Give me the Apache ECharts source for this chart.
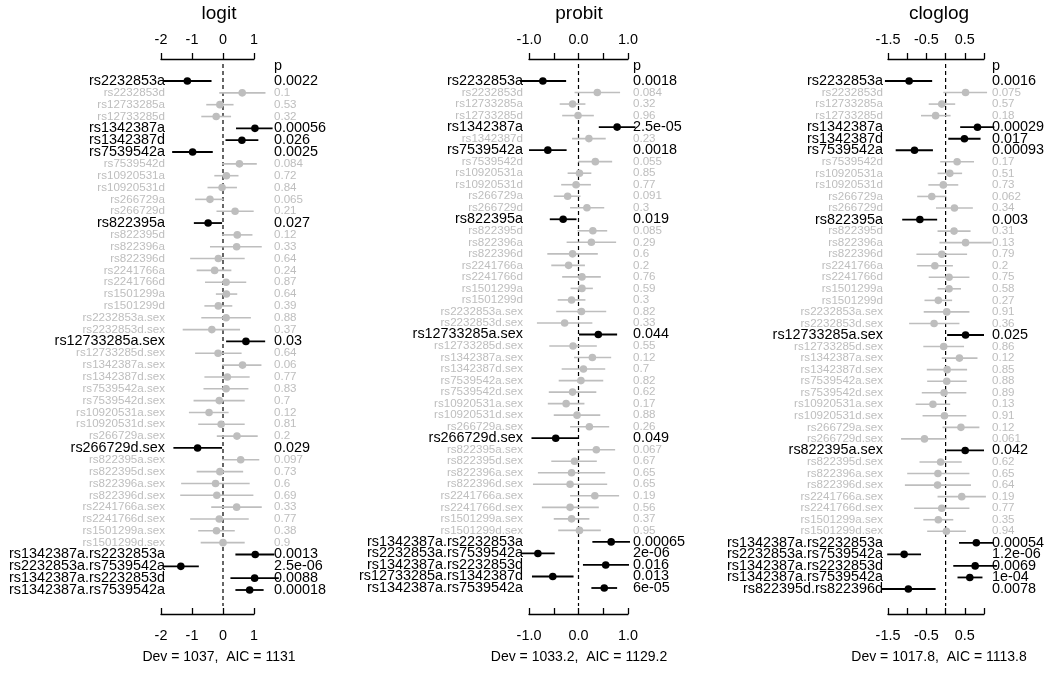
<!DOCTYPE html>
<html>
<head>
<meta charset="utf-8">
<script src="https://cdn.jsdelivr.net/npm/echarts@6/dist/echarts.min.js"></script>
<style>
  html, body { margin: 0; padding: 0; background: #fff; }
  #chart { width: 1050px; height: 678px; }
</style>
</head>
<body>
<div id="chart"></div>
<script>
// terms shared by all three models
const baseTerms = ['rs2232853a', 'rs2232853d', 'rs12733285a', 'rs12733285d', 'rs1342387a', 'rs1342387d',
  'rs7539542a', 'rs7539542d', 'rs10920531a', 'rs10920531d', 'rs266729a', 'rs266729d', 'rs822395a', 'rs822395d',
  'rs822396a', 'rs822396d', 'rs2241766a', 'rs2241766d', 'rs1501299a', 'rs1501299d',
  'rs2232853a.sex', 'rs2232853d.sex', 'rs12733285a.sex', 'rs12733285d.sex', 'rs1342387a.sex', 'rs1342387d.sex',
  'rs7539542a.sex', 'rs7539542d.sex', 'rs10920531a.sex', 'rs10920531d.sex', 'rs266729a.sex', 'rs266729d.sex',
  'rs822395a.sex', 'rs822395d.sex', 'rs822396a.sex', 'rs822396d.sex', 'rs2241766a.sex', 'rs2241766d.sex',
  'rs1501299a.sex', 'rs1501299d.sex']

const logitInter = ['rs1342387a.rs2232853a', 'rs2232853a.rs7539542a', 'rs1342387a.rs2232853d', 'rs1342387a.rs7539542a']
const probitInter = ['rs1342387a.rs2232853a', 'rs2232853a.rs7539542a', 'rs1342387a.rs2232853d', 'rs12733285a.rs1342387d', 'rs1342387a.rs7539542a']
const cloglogInter = ['rs1342387a.rs2232853a', 'rs2232853a.rs7539542a', 'rs1342387a.rs2232853d', 'rs1342387a.rs7539542a', 'rs822395d.rs822396d']

// logit
const logitEst = [-1.15, 0.62, -0.10, -0.22, 1.03, 0.61, -0.98, 0.53, 0.11, -0.03, -0.42, 0.39, -0.48, 0.46, 0.44, -0.15, -0.27, 0.10, 0.11, -0.15,
  0.10, -0.36, 0.74, -0.16, 0.63, 0.14, 0.10, -0.12, -0.45, -0.06, 0.45, -0.82, 0.57, -0.10, -0.24, -0.20, 0.44, -0.12, -0.21, 0.00,
  1.04, -1.36, 1.02, 0.86]
const logitLo = [-1.93, -0.12, -0.54, -0.70, 0.42, 0.08, -1.64, -0.03, -0.28, -0.50, -0.90, -0.21, -0.94, -0.03, -0.42, -1.06, -0.85, -0.58, -0.23, -0.60,
  -0.70, -1.30, 0.10, -0.90, -0.02, -0.60, -0.63, -0.95, -1.10, -0.80, -0.20, -1.60, -0.03, -0.85, -1.35, -1.38, -0.38, -1.06, -0.80, -0.72,
  0.40, -1.94, 0.24, 0.40]
const logitHi = [-0.37, 1.37, 0.34, 0.26, 1.60, 1.14, -0.33, 1.09, 0.50, 0.45, 0.02, 0.99, -0.03, 0.95, 1.25, 0.70, 0.27, 0.75, 0.46, 0.30,
  0.90, 0.55, 1.36, 0.60, 1.24, 0.86, 0.82, 0.70, 0.18, 0.70, 1.12, -0.03, 1.17, 0.65, 0.86, 0.98, 1.25, 0.83, 0.38, 0.70,
  1.66, -0.78, 1.80, 1.31]
const logitP = ['0.0022', '0.1', '0.53', '0.32', '0.00056', '0.026', '0.0025', '0.084', '0.72', '0.84', '0.065', '0.21', '0.027', '0.12',
  '0.33', '0.64', '0.24', '0.87', '0.64', '0.39', '0.88', '0.37', '0.03', '0.64', '0.06', '0.77', '0.83', '0.7', '0.12', '0.81', '0.2',
  '0.029', '0.097', '0.73', '0.6', '0.69', '0.33', '0.77', '0.38', '0.9', '0.0013', '2.5e-06', '0.0088', '0.00018']

// probit
const probitEst = [-0.72, 0.38, -0.12, -0.01, 0.78, 0.21, -0.62, 0.34, 0.02, -0.05, -0.22, 0.17, -0.31, 0.29, 0.26, -0.12, -0.20, 0.07, 0.07, -0.14,
  0.06, -0.28, 0.40, -0.11, 0.28, 0.10, 0.05, -0.12, -0.25, -0.03, 0.22, -0.46, 0.36, -0.08, -0.14, -0.17, 0.33, -0.17, -0.14, 0.02,
  0.66, -0.82, 0.55, -0.52, 0.52]
const probitLo = [-1.18, -0.08, -0.38, -0.33, 0.41, -0.13, -1.00, -0.01, -0.22, -0.35, -0.50, -0.17, -0.58, -0.02, -0.24, -0.63, -0.55, -0.33, -0.16, -0.42,
  -0.45, -0.84, 0.01, -0.59, -0.09, -0.34, -0.40, -0.60, -0.62, -0.50, -0.17, -0.95, -0.02, -0.55, -0.82, -0.92, -0.17, -0.74, -0.50, -0.41,
  0.28, -1.16, 0.09, -0.94, 0.26]
const probitHi = [-0.25, 0.84, 0.14, 0.31, 1.15, 0.55, -0.24, 0.68, 0.26, 0.25, 0.04, 0.52, -0.04, 0.58, 0.76, 0.39, 0.13, 0.45, 0.29, 0.14,
  0.56, 0.28, 0.78, 0.37, 0.66, 0.54, 0.50, 0.36, 0.12, 0.44, 0.62, -0.01, 0.74, 0.37, 0.54, 0.58, 0.82, 0.41, 0.22, 0.45,
  1.04, -0.48, 1.02, -0.10, 0.78]
const probitP = ['0.0018', '0.084', '0.32', '0.96', '2.5e-05', '0.23', '0.0018', '0.055', '0.85', '0.77', '0.091', '0.3', '0.019', '0.085',
  '0.29', '0.6', '0.2', '0.76', '0.59', '0.3', '0.82', '0.33', '0.044', '0.55', '0.12', '0.7', '0.82', '0.62', '0.17', '0.88', '0.26',
  '0.049', '0.067', '0.67', '0.65', '0.65', '0.19', '0.56', '0.37', '0.95', '0.00065', '2e-06', '0.016', '0.013', '6e-05']

// cloglog
const cloglogEst = [-0.95, 0.52, -0.10, -0.26, 0.83, 0.49, -0.81, 0.30, 0.11, -0.06, -0.36, 0.23, -0.67, 0.22, 0.52, -0.10, -0.28, 0.09, 0.09, -0.19,
  0.03, -0.30, 0.52, -0.05, 0.36, 0.04, 0.03, -0.04, -0.33, -0.03, 0.40, -0.55, 0.51, -0.13, -0.20, -0.21, 0.42, -0.10, -0.19, 0.02,
  0.80, -1.08, 0.77, 0.63, -0.97]
const cloglogLo = [-1.58, -0.06, -0.44, -0.64, 0.38, 0.07, -1.30, -0.14, -0.21, -0.45, -0.74, -0.25, -1.13, -0.21, -0.16, -0.76, -0.74, -0.44, -0.21, -0.55,
  -0.57, -0.95, 0.04, -0.58, -0.10, -0.49, -0.48, -0.62, -0.78, -0.60, -0.08, -1.16, 0.02, -0.68, -1.00, -1.06, -0.21, -0.82, -0.58, -0.48,
  0.35, -1.52, 0.20, 0.31, -1.68]
const cloglogHi = [-0.35, 1.08, 0.25, 0.13, 1.27, 0.91, -0.33, 0.74, 0.43, 0.33, 0.02, 0.71, -0.22, 0.65, 1.20, 0.56, 0.19, 0.62, 0.40, 0.17,
  0.62, 0.36, 1.00, 0.48, 0.83, 0.56, 0.55, 0.54, 0.12, 0.54, 0.88, 0.02, 1.00, 0.42, 0.62, 0.66, 1.05, 0.62, 0.20, 0.53,
  1.25, -0.64, 1.34, 0.96, -0.26]
const cloglogP = ['0.0016', '0.075', '0.57', '0.18', '0.00029', '0.017', '0.00093', '0.17', '0.51', '0.73', '0.062', '0.34', '0.003', '0.31',
  '0.13', '0.79', '0.2', '0.75', '0.58', '0.27', '0.91', '0.36', '0.025', '0.86', '0.12', '0.85', '0.88', '0.89', '0.13', '0.91', '0.12',
  '0.061', '0.042', '0.62', '0.65', '0.64', '0.19', '0.77', '0.35', '0.94', '0.00054', '1.2e-06', '0.0069', '1e-04', '0.0078']

// axis tick labels (one per tick, '' = tick without label)
const logitTicks = ['-2', '-1', '0', '1']
const probitTicks = ['-1.0', '', '0.0', '', '1.0']
const cloglogTicks = ['-1.5', '', '-0.5', '', '0.5', '']

const devTexts = ['Dev = 1037,  AIC = 1131', 'Dev = 1033.2,  AIC = 1129.2', 'Dev = 1017.8,  AIC = 1113.8']

const FONT = '"Liberation Sans", Arial, Helvetica, sans-serif'
const GRAY = '#bebebe'
const TOP = 59, BOTTOM = 614

const panels = [
  { title: 'logit', names: baseTerms.concat(logitInter), est: logitEst, lo: logitLo, hi: logitHi, p: logitP,
    ticks: logitTicks, min: -2, max: 1, interval: 1,
    left: 161, right: 254, labelRight: 165, pLeft: 274, center: 219, firstRow: 81, lastRow: 590 },
  { title: 'probit', names: baseTerms.concat(probitInter), est: probitEst, lo: probitLo, hi: probitHi, p: probitP,
    ticks: probitTicks, min: -1, max: 1, interval: 0.5,
    left: 529, right: 628, labelRight: 523, pLeft: 633, center: 579, firstRow: 81, lastRow: 588 },
  { title: 'cloglog', names: baseTerms.concat(cloglogInter), est: cloglogEst, lo: cloglogLo, hi: cloglogHi, p: cloglogP,
    ticks: cloglogTicks, min: -1.5, max: 1, interval: 0.5,
    left: 888, right: 984, labelRight: 883, pLeft: 992, center: 939, firstRow: 81, lastRow: 589 },
]

function xAxisFor(p, i, position) {
  const top = position === 'top'
  return {
    gridIndex: i,
    type: 'value',
    position,
    min: p.min,
    max: p.max,
    interval: p.interval,
    splitLine: { show: false },
    axisLine: { show: true, onZero: false, lineStyle: { color: '#000', width: 1.3 } },
    axisTick: { show: true, inside: !top, length: 6, lineStyle: { color: '#000', width: 1.3 } },
    axisLabel: {
      show: true,
      margin: top ? 12 : 15,
      showMinLabel: true,
      showMaxLabel: true,
      hideOverlap: false,
      color: '#000',
      fontSize: 14.4,
      fontFamily: FONT,
      formatter: v => p.ticks[Math.round((v - p.min) / p.interval)] || ''
    }
  }
}

const grid = [], xAxis = [], yAxis = [], series = [], title = []

panels.forEach((p, i) => {
  const n = p.names.length
  const step = (p.lastRow - p.firstRow) / (n - 1)
  grid.push({ left: p.left, width: p.right - p.left, top: TOP, height: BOTTOM - TOP })
  xAxis.push(xAxisFor(p, i, 'top'), xAxisFor(p, i, 'bottom'))
  yAxis.push({
    gridIndex: i, type: 'value', inverse: true, show: false,
    min: -(p.firstRow - TOP) / step,
    max: n - 1 + (BOTTOM - p.lastRow) / step
  })

  series.push({
    type: 'custom',
    xAxisIndex: 2 * i,
    yAxisIndex: i,
    clip: false,
    silent: true,
    data: p.est.map((e, k) => [e, p.lo[k], p.hi[k], k]),
    encode: { x: [0, 1, 2], y: 3 },
    renderItem: (params, api) => {
      const k = api.value(3)
      const sig = parseFloat(p.p[k]) < 0.05
      const col = sig ? '#000' : GRAY
      const fs = sig ? 14.4 : 11.6
      const c = api.coord([api.value(0), k])
      const a = api.coord([api.value(1), k])
      const b = api.coord([api.value(2), k])
      const children = []
      if (k === 0) {
        // dashed reference line at 0
        const z1 = api.coord([0, (64 - p.firstRow) / step])
        const z2 = api.coord([0, (606 - p.firstRow) / step])
        children.push({
          type: 'line', shape: { x1: z1[0], y1: z1[1], x2: z2[0], y2: z2[1] },
          style: { stroke: '#000', lineWidth: 1.2, lineDash: [4, 3] }
        })
        // p header
        const h = api.coord([0, -15 / step])
        children.push({
          type: 'text',
          style: { text: 'p', x: p.pLeft, y: h[1], align: 'left', verticalAlign: 'middle', fill: '#000', fontSize: 14.4, fontFamily: FONT }
        })
      }
      children.push({
        type: 'line', shape: { x1: a[0], y1: a[1], x2: b[0], y2: b[1] },
        style: { stroke: col, lineWidth: sig ? 1.8 : 1.6 }
      })
      children.push({
        type: 'circle', shape: { cx: c[0], cy: c[1], r: 3.8 },
        style: { fill: col }
      })
      children.push({
        type: 'text',
        style: { text: p.names[k], x: p.labelRight, y: c[1], align: 'right', verticalAlign: 'middle', fill: col, fontSize: fs, fontFamily: FONT }
      })
      children.push({
        type: 'text',
        style: { text: p.p[k], x: p.pLeft, y: c[1], align: 'left', verticalAlign: 'middle', fill: col, fontSize: fs, fontFamily: FONT }
      })
      return { type: 'group', children }
    }
  })

  title.push({
    text: p.title, left: p.center, top: 4, textAlign: 'center', padding: 0,
    textStyle: { fontSize: 19, fontWeight: 'normal', color: '#000', fontFamily: FONT }
  })
  title.push({
    text: devTexts[i], left: p.center, top: 650, textAlign: 'center', padding: 0,
    textStyle: { fontSize: 14, fontWeight: 'normal', color: '#000', fontFamily: FONT }
  })
})

const chart = echarts.init(document.getElementById('chart'), null, { renderer: 'canvas' })
chart.setOption({
  animation: false,
  backgroundColor: '#fff',
  title,
  grid,
  xAxis,
  yAxis,
  series
})
</script>
</body>
</html>
